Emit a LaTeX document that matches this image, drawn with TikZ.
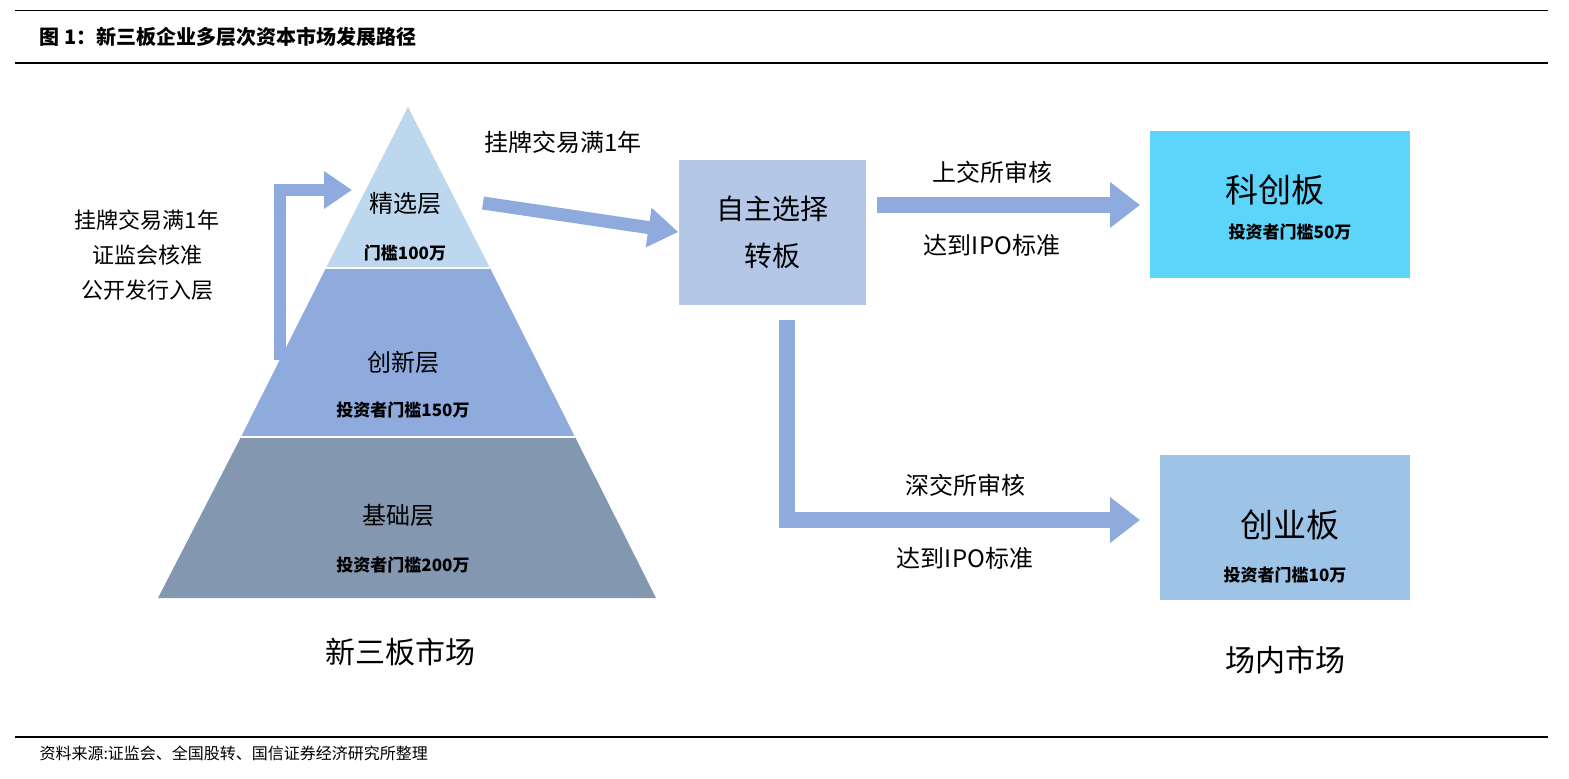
\documentclass[tikz,border=0pt]{standalone}
\usepackage{fontspec}
\setmainfont{Liberation Serif}
\newfontfamily\cjk{Noto Sans CJK SC}
\usetikzlibrary{arrows.meta}
\definecolor{ltop}{HTML}{BDD7EE}
\definecolor{lmid}{HTML}{8FAADC}
\definecolor{lbot}{HTML}{8497B0}
\definecolor{arr}{HTML}{8FAADC}
\definecolor{boxa}{HTML}{B4C7E7}
\definecolor{boxk}{HTML}{5DD5FA}
\definecolor{boxc}{HTML}{9DC3E6}
\tikzset{
 lbl/.style={font=\cjk\fontsize{24}{28}\selectfont},
 big/.style={font=\cjk\fontsize{33}{38}\selectfont},
 sml/.style={font=\cjk\bfseries\fontsize{17}{20}\selectfont},
 flow/.style={draw=arr,line width=13pt,-{Triangle[length=30pt,width=38pt]}},
 panel/.style={draw=none,minimum width=#1}
}
\begin{document}
\begin{tikzpicture}[x=1pt,y=-1pt]
\useasboundingbox (0,0) rectangle (1569,779);
\fill[white] (0,0) rectangle (1569,779);
\draw[line width=0.8pt] (15,10) -- (1548,10);
\draw[line width=1.2pt] (15,63) -- (1548,63);
\draw[line width=1.2pt] (15,737) -- (1548,737);
\node[anchor=west,font=\cjk\bfseries\fontsize{20}{24}\selectfont] (title) at (36,37) {图 1：新三板企业多层次资本市场发展路径};
\node[anchor=west,font=\cjk\fontsize{16}{20}\selectfont] (src) at (36,753) {资料来源:证监会、全国股转、国信证券经济研究所整理};
% pyramid
\fill[lbot] (158,598) -- (656,598) -- (575,437) -- (241,437) -- cycle;
\fill[lmid] (241,437) -- (575,437) -- (490,268) -- (326,268) -- cycle;
\fill[ltop] (326,268) -- (490,268) -- (408,107) -- cycle;
\draw[white,line width=1.5pt] (241,437) -- (575,437) (326,268) -- (490,268);
\node[lbl] (jx) at (405,203) {精选层};
\node[sml] (jxm) at (405,253) {门槛100万};
\node[lbl] (cx) at (403,362) {创新层};
\node[sml] (cxm) at (403,410) {投资者门槛150万};
\node[lbl] (jc) at (398,515) {基础层};
\node[sml] (jcm) at (403,565) {投资者门槛200万};
\node[big,font=\cjk\fontsize{30}{34}\selectfont] (xsb) at (400,652) {新三板市场};
% left arrow
\coordinate (l0) at (280,360);
\coordinate (l1) at (280,190);
\coordinate (l2) at (352,190);
\draw[flow,line width=12pt,-{Triangle[length=28pt,width=36pt]}] (l0) -- (l1) -- (l2);
\node[lbl,align=center,font=\cjk\fontsize{22}{35}\selectfont] (cond) at (147,255) {挂牌交易满1年\\证监会核准\\公开发行入层};
% box
\node[fill=boxa,minimum width=187pt,minimum height=145pt,align=center,font=\cjk\fontsize{28}{47}\selectfont] (zz) at (772,232) {自主选择\\转板};
\coordinate (a0) at (483,203);
\draw[flow] (a0) -- (zz.west);
\node[lbl] (t1) at (563,142) {挂牌交易满1年};
% kcb
\node[fill=boxk,minimum width=260pt,minimum height=147pt] (kc) at (1280,204) {};
\node[big] (kct) at (1275,190) {科创板};
\node[sml] (kcm) at (1290,232) {投资者门槛50万};
\coordinate (b0) at (877,205);
\coordinate (b1) at (1140,205);
\draw[flow,line width=16pt,-{Triangle[length=30pt,width=44pt]}] (b0) -- (b1);
\node[lbl] (t2) at (992,172) {上交所审核};
\node[lbl] (t3) at (992,245) {达到IPO标准};
% cyb
\node[fill=boxc,minimum width=250pt,minimum height=145pt] (cy) at (1285,527) {};
\node[big] (cyt) at (1290,525) {创业板};
\node[sml] (cym) at (1285,575) {投资者门槛10万};
\coordinate (c0) at (787,320);
\coordinate (c1) at (787,520);
\coordinate (c2) at (1140,520);
\draw[flow,line width=16pt,-{Triangle[length=30pt,width=44pt]}] (c0) -- (c1) -- (c2);
\node[lbl] (t4) at (965,485) {深交所审核};
\node[lbl] (t5) at (965,558) {达到IPO标准};
\node[lbl,font=\cjk\fontsize{30}{34}\selectfont] (cn) at (1285,660) {场内市场};
\end{tikzpicture}
\end{document}
